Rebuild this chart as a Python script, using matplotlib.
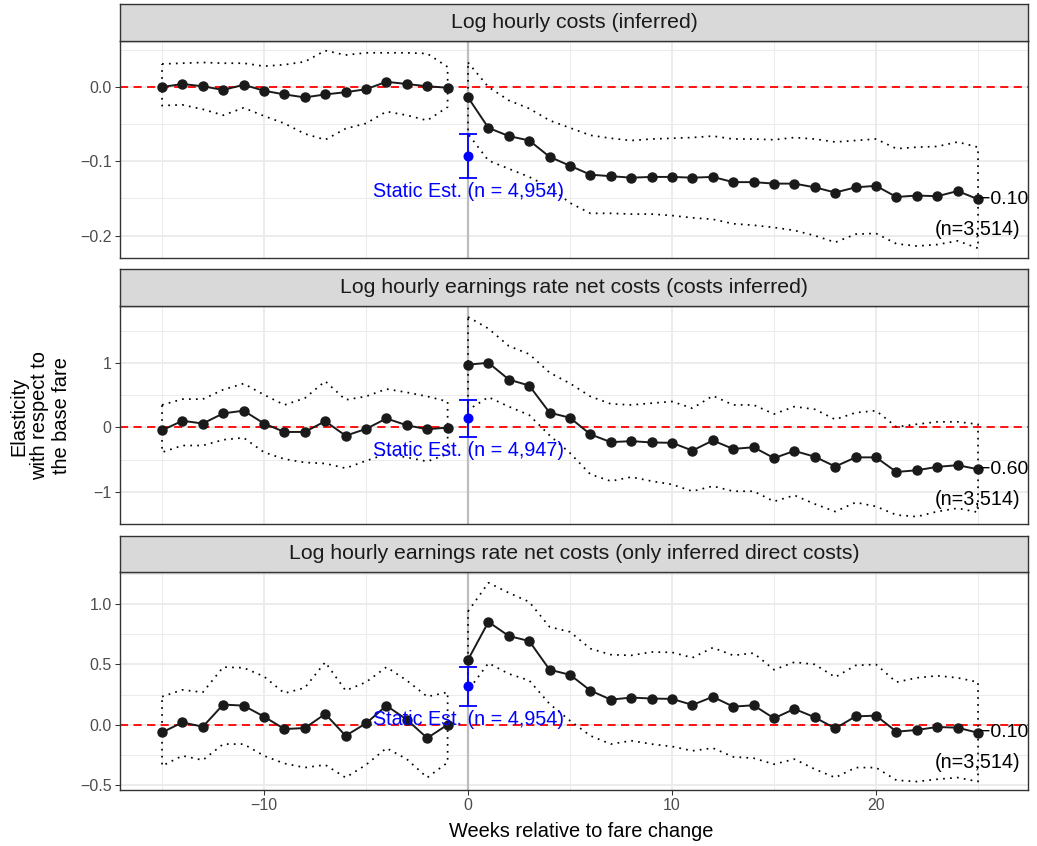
import numpy as np
import matplotlib
matplotlib.use("Agg")
import matplotlib.pyplot as plt
from matplotlib.ticker import FixedLocator

plt.rcParams['font.family'] = ['Liberation Sans', 'DejaVu Sans']

# event-time weeks
weeks_pre = np.arange(-15, 0)
weeks_post = np.arange(0, 26)

titles = ["Log hourly costs (inferred)",
          "Log hourly earnings rate net costs (costs inferred)",
          "Log hourly earnings rate net costs (only inferred direct costs)"]

# panel 1
p1_pre = [0.000, 0.004, 0.001, -0.004, 0.003, -0.005, -0.010, -0.014, -0.010, -0.007, -0.003, 0.007, 0.004, 0.001, -0.001]
p1_pre_hi = [0.031, 0.032, 0.033, 0.032, 0.032, 0.028, 0.030, 0.034, 0.049, 0.043, 0.046, 0.046, 0.046, 0.045, 0.027]
p1_pre_lo = [-0.025, -0.024, -0.030, -0.038, -0.028, -0.039, -0.049, -0.063, -0.071, -0.056, -0.049, -0.033, -0.038, -0.045, -0.027]
p1_post = [-0.014, -0.055, -0.066, -0.072, -0.094, -0.106, -0.118, -0.120, -0.122, -0.121, -0.121, -0.122, -0.121,
           -0.128, -0.128, -0.130, -0.130, -0.135, -0.142, -0.135, -0.133, -0.148, -0.146, -0.147, -0.140, -0.151]
p1_post_hi = [0.033, 0.000, -0.018, -0.029, -0.045, -0.055, -0.065, -0.069, -0.072, -0.070, -0.069, -0.068, -0.066,
              -0.070, -0.070, -0.071, -0.068, -0.070, -0.074, -0.072, -0.070, -0.083, -0.081, -0.080, -0.074, -0.081]
p1_post_lo = [-0.063, -0.099, -0.110, -0.121, -0.135, -0.156, -0.170, -0.170, -0.171, -0.171, -0.173, -0.176, -0.178,
              -0.184, -0.186, -0.189, -0.193, -0.200, -0.209, -0.198, -0.197, -0.211, -0.214, -0.212, -0.207, -0.217]

# panel 2
p2_pre = [-0.047, 0.100, 0.058, 0.215, 0.257, 0.058, -0.073, -0.073, 0.094, -0.131, -0.026, 0.136, 0.031, -0.031, -0.005]
p2_pre_hi = [0.346, 0.436, 0.436, 0.583, 0.677, 0.504, 0.346, 0.451, 0.714, 0.425, 0.478, 0.593, 0.541, 0.478, 0.399]
p2_pre_lo = [-0.388, -0.283, -0.283, -0.194, -0.163, -0.388, -0.493, -0.546, -0.562, -0.635, -0.520, -0.415, -0.467, -0.530, -0.415]
p2_post = [0.970, 1.000, 0.740, 0.646, 0.226, 0.147, -0.110, -0.231, -0.215, -0.236, -0.241, -0.362, -0.205,
           -0.336, -0.310, -0.478, -0.367, -0.457, -0.609, -0.467, -0.467, -0.693, -0.667, -0.614, -0.588, -0.651]
p2_post_hi = [1.710, 1.530, 1.260, 1.134, 0.846, 0.680, 0.478, 0.362, 0.346, 0.373, 0.399, 0.294, 0.488,
              0.346, 0.346, 0.205, 0.320, 0.278, 0.121, 0.226, 0.257, 0.005, 0.047, 0.084, 0.084, 0.047]
p2_post_lo = [0.268, 0.467, 0.320, 0.189, -0.126, -0.400, -0.730, -0.835, -0.772, -0.835, -0.887, -0.992, -0.913,
              -0.992, -0.992, -1.150, -1.055, -1.190, -1.307, -1.165, -1.228, -1.360, -1.386, -1.307, -1.255, -1.318]

# panel 3
p3_pre = [-0.064, 0.019, -0.017, 0.167, 0.158, 0.067, -0.036, -0.028, 0.089, -0.092, 0.011, 0.158, 0.042, -0.111, 0.000]
p3_pre_hi = [0.233, 0.289, 0.269, 0.478, 0.472, 0.400, 0.261, 0.306, 0.519, 0.283, 0.353, 0.478, 0.367, 0.233, 0.269]
p3_pre_lo = [-0.342, -0.258, -0.294, -0.161, -0.161, -0.258, -0.322, -0.356, -0.333, -0.439, -0.333, -0.194, -0.286, -0.439, -0.314]
p3_post = [0.539, 0.853, 0.736, 0.694, 0.456, 0.414, 0.283, 0.208, 0.225, 0.217, 0.214, 0.164, 0.231,
           0.150, 0.161, 0.053, 0.131, 0.061, -0.031, 0.069, 0.075, -0.058, -0.044, -0.019, -0.025, -0.067]
p3_post_hi = [0.940, 1.178, 1.094, 1.019, 0.811, 0.770, 0.631, 0.581, 0.575, 0.603, 0.600, 0.556, 0.639,
              0.575, 0.594, 0.456, 0.519, 0.500, 0.394, 0.492, 0.500, 0.353, 0.389, 0.406, 0.389, 0.353]
p3_post_lo = [0.283, 0.511, 0.422, 0.367, 0.172, 0.033, -0.092, -0.161, -0.133, -0.161, -0.181, -0.217, -0.194,
              -0.267, -0.278, -0.328, -0.286, -0.369, -0.439, -0.356, -0.356, -0.461, -0.472, -0.453, -0.439, -0.472]

# static estimates (plotted at week 0)
static_est = [-0.0928, 0.136, 0.317]
static_lo = [-0.122, -0.152, 0.158]
static_hi = [-0.0635, 0.425, 0.478]
static_n = ["4,954", "4,947", "4,954"]

end_labels = ["\u22120.10", "\u22120.60", "\u22120.10"]
end_n = ["3,514", "3,514", "3,514"]

pre_series = [(p1_pre, p1_pre_lo, p1_pre_hi), (p2_pre, p2_pre_lo, p2_pre_hi), (p3_pre, p3_pre_lo, p3_pre_hi)]
post_series = [(p1_post, p1_post_lo, p1_post_hi), (p2_post, p2_post_lo, p2_post_hi), (p3_post, p3_post_lo, p3_post_hi)]

y_limits = [(-0.2305, 0.0623), (-1.50, 1.88), (-0.542, 1.267)]
y_major = [[-0.2, -0.1, 0.0], [-1, 0, 1], [-0.5, 0.0, 0.5, 1.0]]
y_minor = [[-0.15, -0.05, 0.05], [-1.5, -0.5, 0.5, 1.5], [-0.25, 0.25, 0.75, 1.25]]
y_labels = [["\u22120.2", "\u22120.1", "0.0"], ["\u22121", "0", "1"], ["\u22120.5", "0.0", "0.5", "1.0"]]

W, H = 1037, 846
fig = plt.figure(figsize=(W / 100, H / 100), dpi=100)

# panel placement in pixels (top, bottom)
panel_px = [(40.7, 258.3), (306, 524), (572, 790)]
left_px, right_px = 120, 1028
strip_h = 36.5

dot_ls = (0, (1, 3))

for i in range(3):
    top, bot = panel_px[i]
    ax = fig.add_axes([left_px / W, 1 - bot / H, (right_px - left_px) / W, (bot - top) / H])
    sax = fig.add_axes([left_px / W, 1 - top / H, (right_px - left_px) / W, strip_h / H])

    # strip
    sax.set_facecolor('#D9D9D9')
    sax.set_xticks([])
    sax.set_yticks([])
    for s in sax.spines.values():
        s.set_color('#333333')
        s.set_linewidth(1.0)
    sax.text(0.5, 0.5, titles[i], ha='center', va='center', fontsize=15.3, color='#1A1A1A',
             transform=sax.transAxes)

    ax.set_xlim(-17.06, 27.45)
    ax.set_ylim(*y_limits[i])
    ax.xaxis.set_major_locator(FixedLocator([-10, 0, 10, 20]))
    ax.xaxis.set_minor_locator(FixedLocator([-15, -5, 5, 15, 25]))
    ax.yaxis.set_major_locator(FixedLocator(y_major[i]))
    ax.yaxis.set_minor_locator(FixedLocator(y_minor[i]))
    ax.set_yticklabels(y_labels[i])
    ax.grid(which='major', color='#EBEBEB', lw=1.3, zorder=0)
    ax.grid(which='minor', color='#EBEBEB', lw=0.7, zorder=0)
    ax.set_axisbelow(True)
    ax.tick_params(which='minor', length=0)
    ax.tick_params(which='major', length=3.6, width=0.75, color='#333333',
                   labelsize=11.5, labelcolor='#4D4D4D', pad=2.5)
    for s in ax.spines.values():
        s.set_color('#333333')
        s.set_linewidth(1.0)
    if i < 2:
        ax.tick_params(axis='x', which='both', bottom=False, labelbottom=False)

    ax.axvline(0, color='#BEBEBE', lw=1.6, zorder=1)
    ax.axhline(0, color='red', lw=1.3, ls=(0, (4.5, 3)), zorder=2)

    for xs, (est, lo, hi) in ((weeks_pre, pre_series[i]), (weeks_post, post_series[i])):
        # closed dotted outline around the confidence band
        px = np.concatenate([xs, xs[::-1], xs[:1]])
        py = np.concatenate([hi, lo[::-1], hi[:1]])
        ax.plot(px, py, color='black', lw=1.25, ls=dot_ls, zorder=3)
        ax.plot(xs, est, color='#1A1A1A', lw=1.4, marker='o', ms=6.5, zorder=4)

    # static estimate with error bar
    ax.errorbar([0], [static_est[i]],
                yerr=[[static_est[i] - static_lo[i]], [static_hi[i] - static_est[i]]],
                fmt='o', color='blue', ms=6.2, lw=1.3, capsize=6.5, capthick=1.3, zorder=5)
    ax.annotate("Static Est. (n = %s)" % static_n[i], xy=(0, static_lo[i]), xytext=(0, -10),
                textcoords='offset points', ha='center', va='center', color='blue', fontsize=14.2, zorder=6)

    # end-of-window labels
    ax.annotate(end_labels[i], xy=(weeks_post[-1], post_series[i][0][-1]), xytext=(0.6, 0),
                textcoords='offset points', ha='left', va='center', fontsize=14.0, color='black', zorder=6)
    ax.annotate("(n=%s)" % end_n[i], xy=(weeks_post[-1], post_series[i][0][-1]), xytext=(0, -21.5),
                textcoords='offset points', ha='center', va='center', fontsize=14.2, color='black', zorder=6)

fig.text(581 / W, 1 - 831 / H, "Weeks relative to fare change", ha='center', va='center', fontsize=14.4)
fig.text(40 / W, 1 - 416 / H, "Elasticity\nwith respect to\nthe base fare", ha='center', va='center',
         rotation=90, fontsize=14.4, linespacing=1.15)

fig.savefig("out.png", dpi=100)
